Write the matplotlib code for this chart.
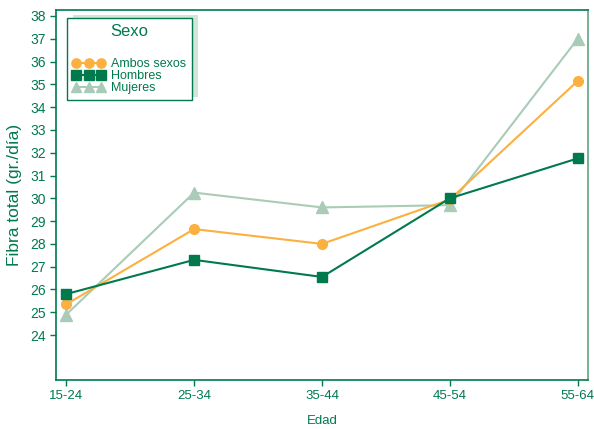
import matplotlib
matplotlib.use("Agg")
import matplotlib.pyplot as plt
from matplotlib.patches import Rectangle

plt.rcParams['font.family'] = ['Liberation Sans', 'DejaVu Sans']

# Data
edades = ["15-24", "25-34", "35-44", "45-54", "55-64"]
ambos = [25.35, 28.65, 28.0, 29.95, 35.15]
hombres = [25.8, 27.3, 26.55, 30.0, 31.75]
mujeres = [24.9, 30.25, 29.6, 29.7, 37.0]
yticks = list(range(24, 39))

verde = "#007a4d"
naranja = "#fbb040"
verde_claro = "#a9cbb7"

fig = plt.figure(figsize=(5.94, 4.29), dpi=100)
ax = fig.add_axes([0.0943, 0.1142, 0.8956, 0.8625])

x = range(len(edades))
ax.plot(x, ambos, color=naranja, marker="o", markersize=7, linewidth=1.5,
        label="Ambos sexos", zorder=3)
ax.plot(x, hombres, color=verde, marker="s", markersize=7, linewidth=1.5,
        label="Hombres", zorder=4)
ax.plot(x, mujeres, color=verde_claro, marker="^", markersize=8, linewidth=1.5,
        label="Mujeres", zorder=2)

ax.set_xlim(-0.08, 4.08)
ax.set_ylim(22.03, 38.26)
ax.set_xticks(list(x))
ax.set_xticklabels(edades)
ax.set_yticks(yticks)

for s in ax.spines.values():
    s.set_color(verde)
    s.set_linewidth(1.2)
ax.spines["right"].set_color("#5fa37f")
ax.tick_params(colors=verde, labelcolor=verde, length=4, width=1)
ax.tick_params(axis="y", labelsize=10)
ax.tick_params(axis="x", labelsize=9.5)

ax.set_ylabel("Fibra total (gr./día)", color=verde, fontsize=12.5, labelpad=6)
ax.set_xlabel("Edad", color=verde, fontsize=9.5, labelpad=9)

leg = ax.legend(loc="upper left", bbox_to_anchor=(0.0207, 0.978), numpoints=3,
                title="Sexo", fontsize=9, title_fontsize=12, frameon=True,
                fancybox=False, edgecolor=verde, borderaxespad=0, framealpha=1,
                handlelength=2.6, handletextpad=0.5, labelspacing=0.0,
                borderpad=0.45, markerscale=0.95)
leg.get_frame().set_linewidth(1)
leg.set_zorder(6)
leg.get_title().set_color(verde)
leg._legend_box.sep = 14
for t in leg.get_texts():
    t.set_color(verde)

# shadow box behind legend, offset up and right
fig.canvas.draw()
bb = leg.get_window_extent().transformed(ax.transAxes.inverted())
ax.add_patch(Rectangle((bb.x0 + 6 / 532, bb.y0 + 3 / 370), bb.width, bb.height,
                       transform=ax.transAxes, facecolor="#d3e4d9",
                       edgecolor="none", zorder=5))

fig.savefig("out.png", dpi=100)
